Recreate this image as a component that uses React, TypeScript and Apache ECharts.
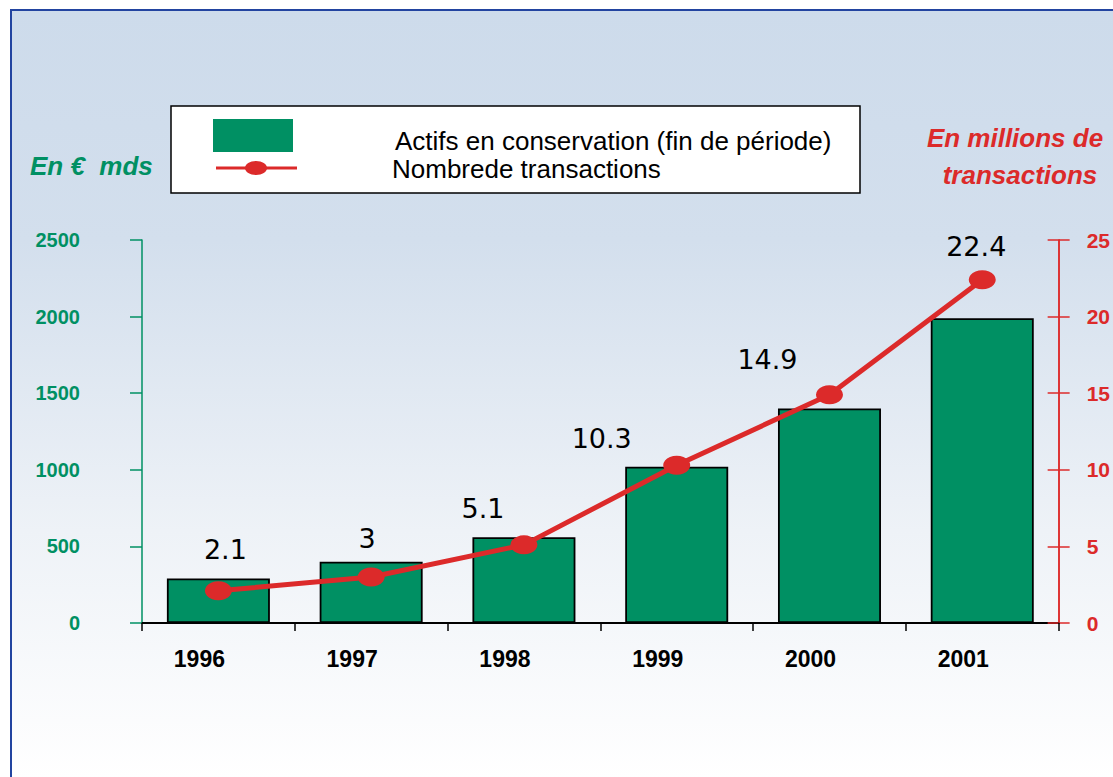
import React, { useEffect, useRef } from "react";
import * as echarts from "echarts";

const years = ["1996", "1997", "1998", "1999", "2000", "2001"];
const assets = [290, 400, 560, 1020, 1400, 1990];
const transactions = [2.1, 3, 5.1, 10.3, 14.9, 22.4];
const leftTicks = { min: 0, max: 2500, interval: 500 };
const rightTicks = { min: 0, max: 25, interval: 5 };
const labelShifts = [[7, -4], [-4, -2], [-41, 1], [-75, 10], [-62, 2], [-6, 4]];

const GREEN = "#009063";
const RED = "#dc2a2a";
const FONT = "Liberation Sans, Arial";

export default function App() {
  const ref = useRef<HTMLDivElement>(null);
  useEffect(() => {
    const chart = echarts.init(ref.current!, null, { renderer: "svg" });
    chart.setOption({
      animation: false,
      grid: { left: 142, right: 52, top: 240, bottom: 154 },
      xAxis: {
        type: "category",
        data: years,
        axisLine: { lineStyle: { color: "#000", width: 2 } },
        axisTick: { show: true, length: 8, lineStyle: { color: "#000", width: 1.5 } },
        axisLabel: { color: "#000", fontWeight: "bold", fontSize: 23, fontFamily: FONT, margin: 24, padding: [0, 38, 0, 0] },
      },
      yAxis: [
        {
          type: "value", position: "left", ...leftTicks,
          axisLine: { show: true, lineStyle: { color: GREEN, width: 1.5 } },
          axisTick: { show: true, length: 12, lineStyle: { color: GREEN, width: 1.5 } },
          axisLabel: { color: GREEN, fontWeight: "bold", fontSize: 20, fontFamily: FONT, margin: 62, formatter: (v: number) => String(v) },
          splitLine: { show: false },
        },
        {
          type: "value", position: "right", ...rightTicks,
          axisLine: { show: true, lineStyle: { color: RED, width: 1.5 } },
          axisTick: { show: true, length: 11, lineStyle: { color: RED, width: 1.5 } },
          axisLabel: { color: RED, fontWeight: "bold", fontSize: 21, fontFamily: FONT, margin: 28, formatter: (v: number) => String(v) },
          splitLine: { show: false },
        },
        {
          type: "value", position: "right", ...rightTicks,
          axisLine: { show: true, lineStyle: { color: RED, width: 1.5 } },
          axisTick: { show: true, inside: true, length: 11, lineStyle: { color: RED, width: 1.5 } },
          axisLabel: { show: false },
          splitLine: { show: false },
        },
      ],
      series: [
        {
          name: "Actifs en conservation (fin de période)",
          type: "bar",
          yAxisIndex: 0,
          data: assets,
          barWidth: 103,
          itemStyle: { color: GREEN, borderColor: "#000", borderWidth: 1.8 },
          z: 2,
        },
        {
          name: "Nombrede transactions",
          type: "line",
          yAxisIndex: 1,
          data: transactions.map((v, i) => ({
            value: v,
            label: { offset: labelShifts[i] },
          })),
          symbol: "circle",
          symbolSize: [27, 19],
          lineStyle: { color: RED, width: 5 },
          itemStyle: { color: RED },
          label: {
            show: true,
            position: "top",
            distance: 14,
            color: "#000",
            fontSize: 27,
            fontFamily: "DejaVu Sans",
          },
          z: 3,
        },
      ],
      graphic: [
        {
          type: "rect",
          shape: { x: 171, y: 106, width: 689, height: 87 },
          style: { fill: "#fff", stroke: "#000", lineWidth: 1.5 },
        },
        {
          type: "rect",
          shape: { x: 213, y: 119, width: 80, height: 33 },
          style: { fill: GREEN },
        },
        {
          type: "line",
          shape: { x1: 216, y1: 168, x2: 297, y2: 168 },
          style: { stroke: RED, lineWidth: 3 },
        },
        {
          type: "ellipse",
          shape: { cx: 256, cy: 168, rx: 11, ry: 7 },
          style: { fill: RED },
        },
        {
          type: "text",
          x: 395, y: 141,
          style: { text: "Actifs en conservation (fin de période)", fill: "#000", font: "26px " + FONT, textVerticalAlign: "middle" },
        },
        {
          type: "text",
          x: 392, y: 169,
          style: { text: "Nombrede transactions", fill: "#000", font: "26px " + FONT, textVerticalAlign: "middle" },
        },
        {
          type: "text",
          x: 30, y: 166,
          style: { text: "En €  mds", fill: GREEN, font: "italic bold 26px " + FONT, textVerticalAlign: "middle" },
        },
        {
          type: "text",
          x: 1015, y: 138,
          style: { text: "En millions de", fill: RED, font: "italic bold 26px " + FONT, textAlign: "center", textVerticalAlign: "middle" },
        },
        {
          type: "text",
          x: 1020, y: 175,
          style: { text: "transactions", fill: RED, font: "italic bold 26px " + FONT, textAlign: "center", textVerticalAlign: "middle" },
        },
      ],
    });
    return () => chart.dispose();
  }, []);

  return (
    <div style={{ position: "absolute", left: 0, top: 0, width: 1113, height: 777, overflow: "hidden", background: "#fff" }}>
      <div
        style={{
          position: "absolute",
          left: 10,
          top: 9,
          width: 1300,
          height: 1000,
          border: "2px solid #2244a0",
          background: "linear-gradient(to bottom, #cddbeb 0px, #d3dfed 230px, #eef2f7 520px, #ffffff 768px, #ffffff 1000px)",
        }}
      />
      <div ref={ref} style={{ position: "absolute", left: 0, top: 0, width: 1113, height: 777 }} />
    </div>
  );
}
